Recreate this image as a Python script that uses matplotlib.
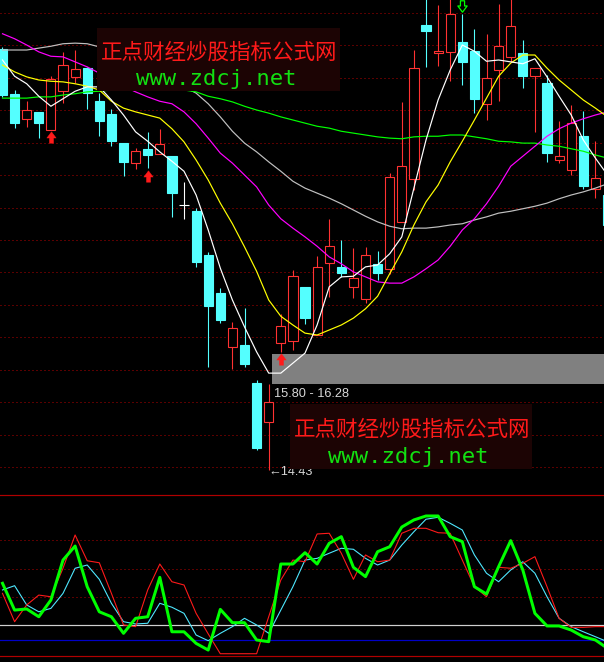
import numpy as np
import matplotlib
matplotlib.use("Agg")
import matplotlib.pyplot as plt
from matplotlib.path import Path
from matplotlib.patches import Rectangle
import matplotlib.transforms as mtransforms

plt.rcParams['font.family'] = ['Noto Sans CJK SC', 'DejaVu Sans']

# ---------------- data ----------------
opens = [21.17, 20.45, 20.05, 20.16, 19.87, 20.49, 20.72, 20.86, 20.33, 20.13,
         19.66, 19.34, 19.57, 19.49, 19.45, 18.67, 18.57, 17.87, 17.26, 16.40,
         16.43, 15.82, 15.20, 16.46, 16.49, 17.36, 16.59, 17.74, 17.68, 17.36,
         17.17, 17.73, 17.65, 18.40, 19.09, 21.55, 21.10, 21.12, 21.28, 21.13,
         20.29, 20.83, 21.04, 21.10, 20.73, 20.62, 19.39, 19.23, 19.77, 18.93,
         18.83]
closes = [20.43, 19.98, 20.19, 19.98, 20.69, 20.91, 20.85, 20.46, 20.01, 19.69,
          19.36, 19.53, 19.47, 19.65, 18.86, 18.67, 17.76, 17.05, 16.83, 16.70,
          16.13, 14.78, 15.52, 16.73, 17.53, 16.86, 17.68, 18.01, 17.58, 17.50,
          17.87, 17.58, 19.12, 19.29, 20.86, 21.45, 21.13, 21.73, 20.96, 20.37,
          20.70, 21.21, 21.53, 20.73, 20.86, 19.50, 19.45, 19.98, 18.97, 19.10,
          18.35]
highs = [21.20, 20.51, 20.33, 20.16, 20.73, 21.12, 21.15, 20.88, 20.46, 20.21,
         19.66, 19.58, 19.84, 19.89, 19.45, 19.04, 18.62, 17.92, 17.34, 16.80,
         17.02, 15.87, 15.81, 16.93, 17.63, 17.36, 17.85, 18.45, 18.11, 17.98,
         18.00, 17.93, 19.18, 20.32, 21.15, 22.00, 21.87, 22.00, 21.73, 21.49,
         21.41, 21.89, 22.00, 21.31, 20.86, 20.75, 20.01, 20.27, 20.17, 19.69,
         18.91]
lows = [20.40, 19.90, 19.92, 19.74, 19.87, 20.30, 20.62, 20.21, 19.77, 19.61,
        19.13, 19.25, 19.26, 19.49, 18.48, 18.45, 17.68, 16.08, 16.78, 16.05,
        16.08, 14.75, 14.43, 16.32, 16.35, 16.77, 16.59, 17.20, 17.52, 17.18,
        17.10, 17.47, 17.57, 18.40, 18.91, 20.88, 20.89, 20.65, 20.59, 20.14,
        20.03, 20.33, 20.96, 20.54, 19.84, 19.36, 19.34, 19.15, 18.93, 18.78,
        18.30]

ma_white = [20.99, 20.73, 20.61, 20.41, 20.25, 20.37, 20.49, 20.56, 20.56, 20.35,
            20.11, 19.84, 19.69, 19.52, 19.37, 19.21, 18.83, 18.27, 17.66, 17.15,
            16.72, 16.32, 15.98, 15.98, 16.14, 16.30, 16.75, 17.36, 17.52, 17.53,
            17.68, 17.71, 17.89, 18.16, 18.94, 19.71, 20.35, 20.83, 21.23, 21.13,
            20.97, 20.99, 20.96, 20.93, 21.01, 20.72, 20.41, 20.11, 19.71, 19.42,
            19.15]
ma_yellow = [20.91, 20.80, 20.72, 20.67, 20.65, 20.64, 20.61, 20.57, 20.51, 20.33,
             20.22, 20.16, 20.11, 20.06, 19.89, 19.68, 19.39, 19.07, 18.70, 18.37,
             18.00, 17.61, 17.15, 16.89, 16.75, 16.62, 16.59, 16.67, 16.75, 16.86,
             17.01, 17.21, 17.57, 17.92, 18.35, 18.72, 18.99, 19.36, 19.69, 20.03,
             20.38, 20.73, 20.94, 21.07, 21.07, 20.86, 20.67, 20.51, 20.35, 20.22,
             20.08]
ma_magenta = [21.41, 21.33, 21.23, 21.12, 21.05, 21.04, 20.96, 20.88, 20.78, 20.67,
              20.57, 20.48, 20.40, 20.33, 20.29, 20.16, 19.97, 19.74, 19.50, 19.34,
              19.15, 18.96, 18.67, 18.45, 18.30, 18.16, 18.01, 17.84, 17.73, 17.60,
              17.52, 17.44, 17.42, 17.42, 17.52, 17.65, 17.79, 18.01, 18.27, 18.45,
              18.69, 18.97, 19.29, 19.45, 19.61, 19.77, 19.89, 19.98, 20.05, 20.11,
              20.16]
ma_gray = [21.15, 21.15, 21.15, 21.18, 21.21, 21.25, 21.26, 21.25, 21.20, 21.12,
           21.04, 20.94, 20.85, 20.75, 20.65, 20.56, 20.46, 20.29, 20.08, 19.85,
           19.66, 19.52, 19.36, 19.21, 19.05, 18.94, 18.86, 18.78, 18.69, 18.59,
           18.49, 18.40, 18.33, 18.29, 18.30, 18.30, 18.32, 18.35, 18.37, 18.43,
           18.48, 18.54, 18.57, 18.61, 18.65, 18.70, 18.77, 18.83, 18.88, 18.94,
           19.01]
ma_green = [20.38, 20.38, 20.38, 20.40, 20.40, 20.43, 20.45, 20.48, 20.49, 20.51,
            20.51, 20.51, 20.51, 20.51, 20.51, 20.51, 20.48, 20.41, 20.37, 20.32,
            20.25, 20.19, 20.14, 20.08, 20.03, 19.98, 19.93, 19.90, 19.85, 19.82,
            19.79, 19.76, 19.74, 19.73, 19.76, 19.77, 19.77, 19.79, 19.79, 19.76,
            19.73, 19.69, 19.68, 19.66, 19.66, 19.63, 19.61, 19.57, 19.53, 19.47,
            19.42]

buy_signals = [4, 12, 23]
sell_signals = [38]
zone_low, zone_high = 15.80, 16.28
zone_label = "15.80 - 16.28"
low_label = "14.43"

ind_green = [49.7, 30.8, 31.6, 26.1, 37.9, 66.1, 76.0, 47.3, 29.6, 26.1,
             14.4, 25.0, 26.1, 53.9, 15.5, 15.5, 7.3, 2.6, 31.3, 21.9,
             21.9, 9.7, 8.5, 63.3, 63.3, 71.3, 63.3, 77.9, 82.6, 61.0,
             54.4, 72.0, 75.5, 89.4, 94.4, 97.2, 97.2, 82.6, 79.1, 47.3,
             42.1, 61.4, 79.8, 59.1, 28.5, 19.6, 19.6, 16.7, 12.0, 9.7,
             3.8]
ind_cyan = [45.0, 48.0, 34.4, 29.6, 32.0, 42.6, 60.3, 62.6, 52.5, 35.6,
            22.6, 21.0, 21.5, 35.6, 32.8, 28.5, 13.2, 9.2, 14.4, 19.1,
            25.0, 20.3, 14.4, 30.8, 47.3, 66.1, 67.3, 70.9, 74.4, 73.7,
            67.3, 62.6, 66.1, 76.7, 86.1, 94.9, 96.3, 92.0, 87.3, 69.7,
            56.8, 50.8, 59.1, 64.9, 56.8, 40.2, 25.0, 19.1, 15.5, 12.0,
            8.5]
ind_red = [42.6, 22.6, 34.4, 41.4, 40.2, 60.3, 83.8, 65.6, 64.2, 42.6,
           20.3, 19.1, 45.0, 63.3, 50.8, 48.5, 28.5, 14.0, 0.0, 0.0,
           0.0, 0.0, 26.1, 52.0, 66.1, 64.9, 84.5, 85.0, 70.9, 52.5,
           69.7, 64.9, 66.1, 85.0, 88.5, 88.5, 85.4, 85.0, 66.1, 47.3,
           40.2, 61.0, 60.3, 63.8, 68.5, 47.3, 25.0, 18.6, 18.6, 19.1,
           19.1]
ind_levels_dotted = [40, 60, 80]
ind_level_white = 20
ind_level_blue = 10

# ---------------- layout ----------------
W, H = 604, 662
PX = 0.72  # 1 pixel in points at dpi 100
fig = plt.figure(figsize=(W / 100, H / 100), dpi=100, facecolor='black')
ax1 = fig.add_axes([0, 167 / H, 1, 495 / H])
ax2 = fig.add_axes([0, 6 / H, 1, 161 / H])
for ax in (ax1, ax2):
    ax.set_facecolor('black')
    ax.set_xticks([])
    ax.set_yticks([])
    for s in ax.spines.values():
        s.set_visible(False)

n = len(opens)
x = np.arange(n)
xlim = (-0.2066, 49.71)
ax1.set_xlim(*xlim)
ax2.set_xlim(*xlim)
ax1.set_ylim(14.03, 21.95)
ax2.set_ylim(-1.6, 112.0)

RED = '#ff3232'
CYAN = '#54ffff'
GRID = '#b40000'

# dotted grid in upper panel (evenly spaced rows)
for k in range(15):
    frac = 1 - (13 + 32.43 * k) / 495
    ax1.plot([0, 1], [frac, frac], transform=ax1.transAxes, color=GRID,
             lw=PX, ls=(0, (1, 3)), zorder=1)

# price zone band
low_idx = int(np.argmin(lows))
ax1.add_patch(Rectangle((low_idx + 0.3, zone_low), 60, zone_high - zone_low,
                        facecolor='#808080', edgecolor='none', zorder=1.5))

# candles
for i in range(n):
    o, c, h, l = opens[i], closes[i], highs[i], lows[i]
    if c > o:
        col, face = RED, 'black'
    elif c < o:
        col, face = CYAN, CYAN
    else:
        col, face = 'white', 'white'
    ax1.vlines(i, l, h, color=col, lw=PX * 1.1, zorder=2)
    ax1.bar(i, abs(c - o), bottom=min(o, c), width=0.76, facecolor=face,
            edgecolor=col, lw=PX * 1.1, zorder=3)

# moving averages
ax1.plot(x, ma_gray, color='#c0c0c0', lw=PX * 1.2, zorder=4)
ax1.plot(x, ma_green, color='#00ff00', lw=PX * 1.2, zorder=4)
ax1.plot(x, ma_magenta, color='#ff00ff', lw=PX * 1.2, zorder=4)
ax1.plot(x, ma_yellow, color='#ffff00', lw=PX * 1.2, zorder=4)
ax1.plot(x, ma_white, color='#ffffff', lw=PX * 1.2, zorder=4)

# signal arrows
up_path = Path([(0, 5.5), (4.5, -0.5), (2, -0.5), (2, -5.5), (-2, -5.5),
                (-2, -0.5), (-4.5, -0.5), (0, 5.5)],
               [Path.MOVETO] + [Path.LINETO] * 6 + [Path.CLOSEPOLY])
down_path = Path([(-2, 5.5), (2, 5.5), (2, 0.5), (4.5, 0.5), (0, -5.5),
                  (-4.5, 0.5), (-2, 0.5), (-2, 5.5)],
                 [Path.MOVETO] + [Path.LINETO] * 6 + [Path.CLOSEPOLY])
t_down = mtransforms.offset_copy(ax1.transData, fig=fig, x=0, y=-7.5, units='dots')
t_up = mtransforms.offset_copy(ax1.transData, fig=fig, x=0, y=7.5, units='dots')
ax1.plot(buy_signals, [lows[i] for i in buy_signals], ls='none', marker=up_path,
         ms=8.2, mfc='#ff1a1a', mec='#ff1a1a', mew=0.3, transform=t_down, zorder=6)
ax1.plot(sell_signals, [highs[i] for i in sell_signals], ls='none', marker=down_path,
         ms=8.2, mfc='none', mec='#00ff00', mew=0.9, transform=t_up, zorder=6)

# zone label and low label
ax1.annotate(zone_label, xy=(low_idx + 0.3, zone_low), xytext=(2, -4),
             textcoords='offset pixels', ha='left', va='top', color='#d8d8d8',
             fontsize=9.2, family=['Liberation Sans', 'DejaVu Sans'], zorder=7)
ax1.annotate('\u2190' + low_label, xy=(low_idx, lows[low_idx]), xytext=(0, -2),
             textcoords='offset pixels', ha='left', va='center', color='#d8d8d8',
             fontsize=9.2, family=['Liberation Sans', 'DejaVu Sans'], zorder=7)

# ---------------- indicator panel ----------------
for lv in ind_levels_dotted:
    ax2.axhline(lv, color=GRID, lw=PX, ls=(0, (1, 3)), zorder=1)
ax2.axhline(ind_level_white, color='#d0d0d0', lw=PX * 1.2, zorder=1)
ax2.axhline(ind_level_blue, color='#0000c8', lw=PX * 1.2, zorder=1)
for side in ('top', 'bottom'):
    ax2.spines[side].set_visible(True)
    ax2.spines[side].set_color('#b00000')
    ax2.spines[side].set_linewidth(PX * 1.2)
ax2.plot(x, ind_cyan, color='#4fe8ff', lw=PX * 1.1, zorder=3)
ax2.plot(x, ind_red, color='#ff1a1a', lw=PX * 1.1, zorder=3)
ax2.plot(x, ind_green, color='#00ff00', lw=PX * 3, zorder=4)

# ---------------- watermarks ----------------
def fx(px):
    return px / W


def fy(py):
    return 1 - py / H


def watermark(x0, y0, x1, y1, cx_red, cy_red, cx_grn, cy_grn):
    fig.add_artist(Rectangle((fx(x0), fy(y1)), fx(x1) - fx(x0), fy(y0) - fy(y1),
                             transform=fig.transFigure, facecolor='#1c0404',
                             edgecolor='none', zorder=10))
    fig.text(fx(cx_red), fy(cy_red), '正点财经炒股指标公式网', color='#ff1a1a',
             fontsize=15.5, family=['Noto Sans CJK SC'], ha='center', va='center',
             zorder=11)
    fig.text(fx(cx_grn), fy(cy_grn), 'www.zdcj.net', color='#12e012',
             fontsize=16, family=['DejaVu Sans Mono'], ha='center', va='center',
             zorder=11)


watermark(97, 28, 340, 90.6, 219.5, 52.5, 216.5, 79)
watermark(290, 404, 532, 469, 412.5, 430, 408.5, 457)

fig.savefig('out.png', dpi=100, facecolor='black')
